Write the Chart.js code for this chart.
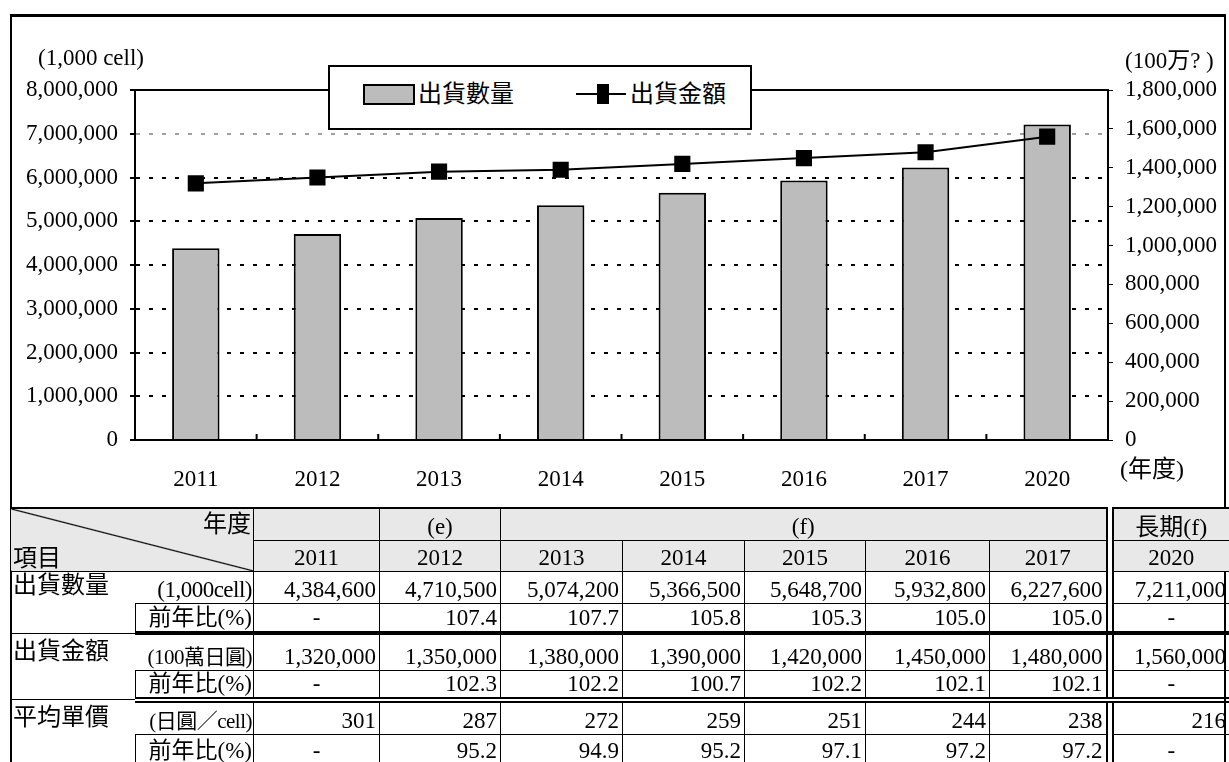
<!DOCTYPE html>
<html>
<head>
<meta charset="utf-8">
<script src="https://cdn.jsdelivr.net/npm/chart.js@4"></script>
<style>
    body { margin: 0; width: 1229px; height: 762px; overflow: hidden; background: #fff; position: relative;
        font-family: 'Liberation Serif', 'Noto Sans CJK TC', serif; color: #000; }
    .marco { position: absolute; left: 10px; top: 14px; width: 1212px; height: 760px;
        border-left: 2px solid #000; border-top: 3px solid #000; border-right: 2px solid #000; }
    .grafica { position: absolute; left: 12px; top: 17px; width: 1212px; height: 491px; }
    .texto { position: absolute; font-size: 23px; line-height: 26px; white-space: nowrap; }
    .cjk { font-size: 24px; }
    .leyenda { position: absolute; left: 328px; top: 65px; width: 420px; height: 61px;
        border: 2px solid #000; background: #fff; }
    .leyenda .caja { position: absolute; left: 33px; top: 17px; width: 48px; height: 17px;
        border: 2px solid #000; background: #bcbcbc; }
    .leyenda .linea { position: absolute; left: 246px; top: 26px; width: 50px; height: 2px; background: #000; }
    .leyenda .marca { position: absolute; left: 267px; top: 17px; width: 12px; height: 20px; background: #000; }
    .leyenda span { position: absolute; top: 12px; font-size: 24px; line-height: 30px; }
    table { position: absolute; left: 10px; top: 507px; width: 1219px; border-collapse: collapse;
        table-layout: fixed; font-size: 23px; }
    td { padding: 0 3px; line-height: 26px; white-space: nowrap; overflow: hidden;
        border: 1px solid #000; text-align: right; vertical-align: bottom; }
    .cab td { background: #e8e8e8; text-align: center; }
    .cab td.hueco, td.hueco { background: #fff; border-left: 2px solid #000; border-right: 2px solid #000;
        border-top: none; border-bottom: none; padding: 0; }
    td.diag { background: linear-gradient(to top right, #e8e8e8 calc(50% - 1.2px), #000 50%, #e8e8e8 calc(50% + 1.2px));
        position: relative; padding: 0; border-top: 2px solid #000; }
    td.diag .a { position: absolute; right: 2px; top: 2px; font-size: 24px; }
    td.diag .b { position: absolute; left: 2px; bottom: 0; font-size: 24px; }
    td.nom { text-align: left; vertical-align: top; font-size: 24px; border-right: none; padding-left: 2px; }
    td.uni { border-left: none; font-size: 23px; padding: 0 1px 0 0; letter-spacing: -0.5px; }
    td.sub { border-left: 1px solid #000; font-size: 23px; padding-right: 1px; }
    td.c { text-align: center; }
    tr.grueso td { border-bottom: 4px solid #000; }
    tr.doble td { border-bottom: 6px double #000; }
</style>
</head>
<body>
<div class="marco"></div>
<div class="grafica"><canvas id="grafica"></canvas></div>

<div class="texto" style="left:38px; top:45px;">(1,000 cell)</div>
<div class="texto" style="left:1125px; top:48px;">(100万? )</div>
<div class="texto cjk" style="left:1120px; top:456px;">(年度)</div>

<div class="leyenda">
    <div class="caja"></div><span style="left:88px;">出貨數量</span>
    <div class="linea"></div><div class="marca"></div><span style="left:300px;">出貨金額</span>
</div>

<table id="tabla"></table>

<script>
    // datos
    const anios = ['2011', '2012', '2013', '2014', '2015', '2016', '2017', '2020'];
    const cantidades = [4384600, 4710500, 5074200, 5366500, 5648700, 5932800, 6227600, 7211000];
    const montos = [1320000, 1350000, 1380000, 1390000, 1420000, 1450000, 1480000, 1560000];
    const variacionCantidad = ['-', '107.4', '107.7', '105.8', '105.3', '105.0', '105.0', '-'];
    const variacionMonto = ['-', '102.3', '102.2', '100.7', '102.2', '102.1', '102.1', '-'];
    const precios = [301, 287, 272, 259, 251, 244, 238, 216];
    const variacionPrecio = ['-', '95.2', '94.9', '95.2', '97.1', '97.2', '97.2', '-'];

    const fuente = { family: "'Liberation Serif', 'Noto Sans CJK TC', serif", size: 23 };
    const formato = v => Number(v).toLocaleString('en-US');

    // Linea superior del area y marcas del eje x
    const bordes = {
        id: 'bordes',
        afterDraw(chart) {
            const { ctx, chartArea, scales } = chart;
            ctx.save();
            ctx.strokeStyle = '#000';
            ctx.lineWidth = 2;
            ctx.beginPath();
            ctx.moveTo(chartArea.left, chartArea.top);
            ctx.lineTo(chartArea.right, chartArea.top);
            for (let i = 1; i < anios.length; i++) {
                const x = (scales.x.getPixelForValue(i - 1) + scales.x.getPixelForValue(i)) / 2;
                ctx.moveTo(x, chartArea.bottom);
                ctx.lineTo(x, chartArea.bottom - 6);
            }
            ctx.stroke();
            ctx.restore();
        }
    };

    const ctx = document.getElementById('grafica');

    new Chart(ctx, {
        type: 'bar',
        data: {
            labels: anios,
            datasets: [
                {
                    type: 'line',
                    label: '出貨金額',
                    data: montos,
                    yAxisID: 'y1',
                    order: 0,
                    borderColor: '#000',
                    backgroundColor: '#000',
                    borderWidth: 2,
                    pointStyle: 'rect',
                    pointRadius: 10,
                    tension: 0
                },
                {
                    label: '出貨數量',
                    data: cantidades,
                    yAxisID: 'y',
                    order: 1,
                    backgroundColor: '#bcbcbc',
                    borderColor: '#000',
                    borderWidth: 2,
                    categoryPercentage: 1,
                    barPercentage: 0.39
                }
            ]
        },
        options: {
            animation: false,
            responsive: true,
            maintainAspectRatio: false,
            layout: { padding: { top: 73 } },
            plugins: {
                legend: { display: false },
                tooltip: { enabled: false }
            },
            scales: {
                x: {
                    grid: { display: false },
                    border: { display: true, color: '#000', width: 2 },
                    ticks: { font: fuente, color: '#000', padding: 18 },
                    afterFit: scale => { scale.height = 68; }
                },
                y: {
                    position: 'left',
                    min: 0,
                    max: 8000000,
                    ticks: { stepSize: 1000000, font: fuente, color: '#000', padding: 12, callback: formato },
                    grid: {
                        lineWidth: 2,
                        tickLength: 5,
                        tickColor: '#000',
                        color: c => {
                            const v = c.tick ? c.tick.value : 0;
                            if (v === 0 || v === 8000000) return 'rgba(0,0,0,0)';
                            if (v === 7000000) return '#a0a0a0';
                            return '#000';
                        }
                    },
                    border: { display: true, color: '#000', width: 2, dash: [4, 9] },
                    afterFit: scale => { scale.width = 123; }
                },
                y1: {
                    position: 'right',
                    min: 0,
                    max: 1800000,
                    ticks: { stepSize: 200000, font: fuente, color: '#000', padding: 12, callback: formato },
                    grid: { drawOnChartArea: false, tickLength: 5, color: '#000' },
                    border: { display: true, color: '#000', width: 2 },
                    afterFit: scale => { scale.width = 116; }
                }
            }
        },
        plugins: [bordes]
    });

    // Tabla de datos
    const tabla = document.getElementById('tabla');
    const celdas = (arr, fmt) => arr.map(v => v === '-' ? '<td class="c">-</td>' : `<td>${fmt ? fmt(v) : v}</td>`);
    const fila = (arr, fmt) => {
        const c = celdas(arr, fmt);
        return c.slice(0, 7).join('') + '<td class="hueco"></td>' + c[7];
    };

    tabla.innerHTML = `
        <colgroup>
            <col style="width:125px"><col style="width:118px">
            <col style="width:126px"><col style="width:121px"><col style="width:122px"><col style="width:122px">
            <col style="width:121px"><col style="width:124px"><col style="width:117px">
            <col style="width:6px"><col style="width:117px">
        </colgroup>
        <tr class="cab" style="height:32px">
            <td class="diag" colspan="2" rowspan="2"><span class="a">年度</span><span class="b">項目</span></td>
            <td style="border-top:2px solid #000"></td>
            <td style="border-top:2px solid #000">(e)</td>
            <td colspan="5" style="border-top:2px solid #000">(f)</td>
            <td class="hueco"></td>
            <td style="border-top:2px solid #000" class="cjk">長期(f)</td>
        </tr>
        <tr class="cab" style="height:31px">
            ${anios.slice(0, 7).map(a => `<td>${a}</td>`).join('')}<td class="hueco"></td><td>${anios[7]}</td>
        </tr>
        <tr style="height:32px">
            <td class="nom" rowspan="2">出貨數量</td><td class="uni">(1,000cell)</td>${fila(cantidades, formato)}
        </tr>
        <tr class="grueso" style="height:30px">
            <td class="sub">前年比(%)</td>${fila(variacionCantidad)}
        </tr>
        <tr style="height:37px">
            <td class="nom" rowspan="2" style="padding-top:4px">出貨金額</td><td class="uni" style="font-size:21px">(100萬日圓)</td>${fila(montos, formato)}
        </tr>
        <tr class="doble" style="height:28px">
            <td class="sub">前年比(%)</td>${fila(variacionMonto)}
        </tr>
        <tr style="height:35px">
            <td class="nom" rowspan="2" style="padding-top:4px">平均單價</td><td class="uni" style="font-size:21px">(日圓／cell)</td>${fila(precios)}
        </tr>
        <tr style="height:30px">
            <td class="sub">前年比(%)</td>${fila(variacionPrecio)}
        </tr>`;
</script>
</body>
</html>
